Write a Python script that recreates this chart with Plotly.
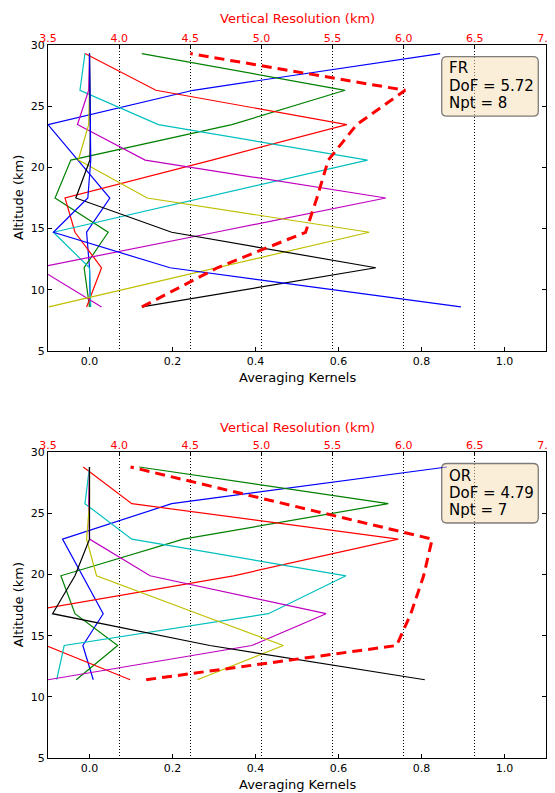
import plotly.graph_objects as go

# ---------------- data ----------------
alt_fr = [8.6, 11.8, 14.7, 17.5, 20.6, 23.5, 26.3, 29.3]
fr_blue1 = [0.002, 0.0, -0.007, 0.049, -0.028, -0.10, 0.25, 0.845]
fr_green = [0.0, -0.013, 0.045, -0.083, -0.045, 0.343, 0.616, 0.126]
fr_red = [-0.007, 0.029, -0.035, -0.059, 0.295, 0.620, 0.160, -0.011]
fr_cyan = [0.003, 0.0, -0.087, 0.274, 0.670, 0.166, -0.023, -0.011]
fr_magenta = [0.029, -0.126, 0.304, 0.714, 0.134, -0.029, -0.002, 0.0]
fr_yellow = [-0.098, 0.307, 0.674, 0.139, -0.027, -0.002, 0.0, 0.0]
fr_black = [0.126, 0.690, 0.198, -0.033, 0.001, 0.002, 0.001, 0.0]
fr_blue8 = [0.895, 0.194, -0.087, -0.004, 0.003, 0.002, 0.001, 0.0]
fr_resolution = [4.16, 4.69, 5.31, 5.39, 5.47, 5.67, 6.01, 4.50]

alt_or = [11.4, 14.2, 16.8, 19.9, 22.9, 25.8, 28.8]
or_blue = [0.009, -0.016, 0.033, -0.016, -0.065, 0.198, 0.861]
or_green = [-0.032, 0.068, -0.035, -0.069, 0.226, 0.720, 0.120]
or_red = [0.098, -0.105, -0.18, 0.347, 0.744, 0.102, -0.015]
or_cyan = [-0.079, -0.061, 0.431, 0.618, 0.102, -0.011, 0.0]
or_magenta = [-0.10, 0.391, 0.570, 0.146, 0.0, -0.002, 0.0]
or_yellow = [0.260, 0.467, 0.261, 0.017, -0.007, 0.0, 0.0]
or_black = [0.808, 0.29, -0.089, -0.035, 0.0, 0.0, 0.0]
or_resolution = [4.19, 5.95, 6.05, 6.14, 6.20, 5.15, 4.08]

ak_ticks = [0.0, 0.2, 0.4, 0.6, 0.8, 1.0]
res_ticks = [3.5, 4.0, 4.5, 5.0, 5.5, 6.0, 6.5, 7.0]
alt_ticks = [5, 10, 15, 20, 25, 30]

fr_info = ["FR", "DoF = 5.72", "Npt = 8"]
or_info = ["OR", "DoF = 4.79", "Npt = 7"]

colors = ['#0000ff', '#008000', '#ff0000', '#00bfbf', '#bf00bf', '#bfbf00', '#000000']

# ---------------- figure ----------------
# The page body adds an 8px offset; figure coordinates = screen coordinates - 8
OFF = 8
W, H = 555, 793 - OFF
ML, MT = 48 - OFF, 45 - OFF
PW = 498
MR = W - ML - PW
MB = H - (758 - OFF)
PH = H - MT - MB

def px_x(px):
    return (px - OFF - ML) / PW

def px_y(py):
    return (H - MB - (py - OFF)) / PH

top_dom = [px_y(351), 1.0]
bot_dom = [0.0, px_y(452.3)]

fig = go.Figure()

fr_kernels = [fr_blue1, fr_green, fr_red, fr_cyan, fr_magenta, fr_yellow, fr_black, fr_blue8]
for i, k in enumerate(fr_kernels):
    fig.add_trace(go.Scatter(x=k, y=alt_fr, mode='lines', xaxis='x', yaxis='y',
                             line=dict(color=colors[i % 7], width=1.2),
                             showlegend=False, hoverinfo='skip'))
fig.add_trace(go.Scatter(x=fr_resolution, y=alt_fr, mode='lines', xaxis='x2', yaxis='y',
                         line=dict(color='#ff0000', width=3, dash='10px,6px'),
                         showlegend=False, hoverinfo='skip'))

or_kernels = [or_blue, or_green, or_red, or_cyan, or_magenta, or_yellow, or_black]
for i, k in enumerate(or_kernels):
    fig.add_trace(go.Scatter(x=k, y=alt_or, mode='lines', xaxis='x3', yaxis='y2',
                             line=dict(color=colors[i % 7], width=1.2),
                             showlegend=False, hoverinfo='skip'))
fig.add_trace(go.Scatter(x=or_resolution, y=alt_or, mode='lines', xaxis='x4', yaxis='y2',
                         line=dict(color='#ff0000', width=3, dash='10px,6px'),
                         showlegend=False, hoverinfo='skip'))

tickfont = dict(family='DejaVu Sans', size=11, color='black')
redfont = dict(family='DejaVu Sans', size=11, color='#ff0000')

def ak_axis(anchor):
    return dict(anchor=anchor, domain=[0, 1], range=[-0.1, 1.1], tickvals=ak_ticks,
                ticktext=['%.1f' % v for v in ak_ticks], ticks='inside', ticklen=4,
                tickcolor='black', showline=True, linecolor='black', linewidth=1.3,
                mirror=True, showgrid=False, zeroline=False, tickfont=tickfont,
                automargin=False)

def res_axis(over, anchor):
    return dict(overlaying=over, anchor=anchor, side='top', range=[3.5, 7.0],
                tickvals=res_ticks, ticktext=['%.1f' % v for v in res_ticks],
                ticks='inside', ticklen=4, tickcolor='black', showline=False,
                showgrid=True, gridcolor='black', griddash='1px,2px', gridwidth=1,
                zeroline=False, tickfont=redfont, automargin=False)

def alt_axis(anchor, dom):
    return dict(anchor=anchor, domain=dom, range=[5, 30], tickvals=alt_ticks,
                ticks='inside', ticklen=4, tickcolor='black', showline=True,
                linecolor='black', linewidth=1.3, mirror='ticks', showgrid=False,
                zeroline=False, tickfont=tickfont, automargin=False)

fig.update_layout(
    width=W, height=H,
    margin=dict(l=ML, r=MR, t=MT, b=MB, autoexpand=False),
    paper_bgcolor='white', plot_bgcolor='white',
    font=dict(family='DejaVu Sans', color='black'),
    xaxis=ak_axis('y'),
    xaxis2=res_axis('x', 'y'),
    yaxis=alt_axis('x', top_dom),
    xaxis3=ak_axis('y2'),
    xaxis4=res_axis('x3', 'y2'),
    yaxis2=alt_axis('x3', bot_dom),
)

annotations = []
shapes = []

def add_titles(top_py, bot_py, mid_py):
    annotations.append(dict(text='Vertical Resolution (km)', xref='paper', yref='paper',
                            x=0.5, y=px_y(top_py), xanchor='center', yanchor='middle',
                            showarrow=False, font=dict(size=13, color='#ff0000')))
    annotations.append(dict(text='Averaging Kernels', xref='paper', yref='paper',
                            x=0.5, y=px_y(bot_py), xanchor='center', yanchor='middle',
                            showarrow=False, font=dict(size=13, color='black')))
    annotations.append(dict(text='Altitude (km)', xref='paper', yref='paper',
                            x=px_x(18), y=px_y(mid_py), xanchor='center', yanchor='middle',
                            textangle=-90, showarrow=False,
                            font=dict(size=13, color='black')))

add_titles(19, 377.5, 198)
add_titles(427.5, 784, 605.3)

def rounded_box(x0, y0, x1, y1, r=5):
    X0, X1 = px_x(x0), px_x(x1)
    Y0, Y1 = px_y(y1), px_y(y0)  # Y0 bottom, Y1 top (paper)
    rx, ry = r / PW, r / PH
    path = (f"M {X0+rx},{Y0} L {X1-rx},{Y0} Q {X1},{Y0} {X1},{Y0+ry} "
            f"L {X1},{Y1-ry} Q {X1},{Y1} {X1-rx},{Y1} L {X0+rx},{Y1} "
            f"Q {X0},{Y1} {X0},{Y1-ry} L {X0},{Y0+ry} Q {X0},{Y0} {X0+rx},{Y0} Z")
    return dict(type='path', path=path, xref='paper', yref='paper',
                fillcolor='rgba(245,222,179,0.5)', line=dict(color='rgba(0,0,0,0.5)', width=1.3),
                layer='above')

def add_info(lines, box_top, line_centers):
    shapes.append(rounded_box(441.7, box_top, 538.3, box_top + 59.5))
    for txt, cy in zip(lines, line_centers):
        annotations.append(dict(text=txt, xref='paper', yref='paper',
                                x=px_x(446.5), y=px_y(cy), xanchor='left', yanchor='middle',
                                showarrow=False, font=dict(size=15, color='black')))

add_info(fr_info, 56.7, [68.5, 86, 103])
add_info(or_info, 463.5, [475.7, 492.7, 509.5])

fig.update_layout(annotations=annotations, shapes=shapes)

fig.write_html("out.html")
